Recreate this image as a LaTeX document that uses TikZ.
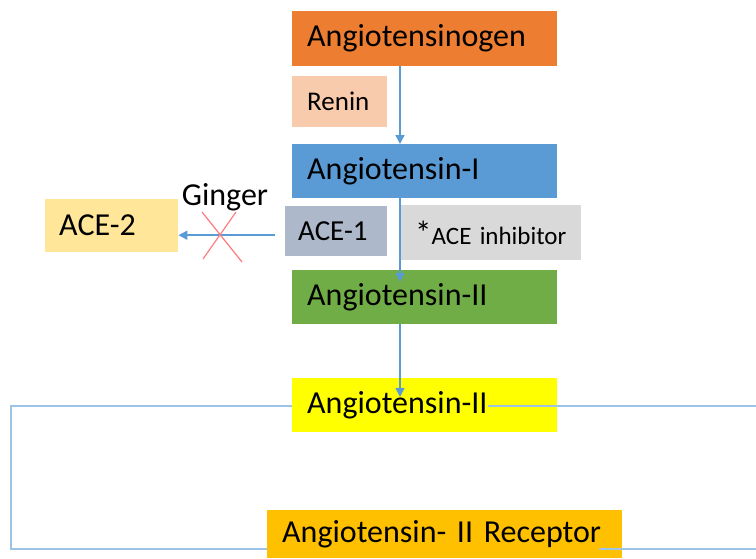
\documentclass[tikz,border=0pt]{standalone}
\usepackage{fontspec}
\setmainfont{Carlito}
\usetikzlibrary{arrows.meta}
\definecolor{cOrange}{HTML}{ED7D31}
\definecolor{cPeach}{HTML}{F8CBAD}
\definecolor{cBlue}{HTML}{5B9BD5}
\definecolor{cLYellow}{HTML}{FFE699}
\definecolor{cSlate}{HTML}{ADB9CA}
\definecolor{cGrey}{HTML}{D9D9D9}
\definecolor{cGreen}{HTML}{70AD47}
\definecolor{cYellow}{HTML}{FFFF00}
\definecolor{cGold}{HTML}{FFC000}
\definecolor{cLine}{HTML}{9DC3E6}
\definecolor{cCross}{HTML}{FF7C80}
\tikzset{
  box/.style={rectangle, inner xsep=15pt, inner ysep=0pt, anchor=north west, align=left, text=black},
  big/.style={font=\fontsize{32}{36}\selectfont},
  arr/.style={cBlue, line width=1.5pt, -{Triangle[width=9pt,length=9pt]}},
  fb/.style={cLine, line width=1.5pt},
  cross/.style={cCross, line width=1.2pt}
}
\begin{document}
\begin{tikzpicture}[x=1pt,y=-1pt]
\useasboundingbox (0,0) rectangle (756,558);
% feedback lines behind boxes
\coordinate (tl) at (11,406);
\coordinate (bl) at (11,549);
\coordinate (tr) at (756,406);
\coordinate (br) at (756,549);
\draw[fb] (292,406) -- (tl) -- (bl) -- (267,549);
% boxes
\node[box, big, fill=cOrange, minimum height=55pt, text width=235pt] (agen) at (292,11) {Angiotensinogen};
\node[box, fill=cPeach, minimum height=51pt, text width=65pt, font=\fontsize{27}{30}\selectfont] (renin) at (292,76) {Renin};
\node[box, big, fill=cBlue, minimum height=54pt, text width=235pt] (ang1) at (292,144) {Angiotensin-I};
\node[box, big, fill=cLYellow, minimum height=53pt, text width=105pt, inner xsep=14pt] (ace2) at (45,199) {ACE-2};
\node[box, fill=cSlate, minimum height=50pt, text width=76pt, inner xsep=13pt, font=\fontsize{29}{32}\selectfont] (ace1) at (285,206) {ACE-1};
\node[box, fill=cGrey, minimum height=55pt, text width=152pt, inner xsep=14pt, font=\fontsize{25}{30}\selectfont] (acei) at (401,205) {{\fontsize{33}{30}\selectfont *}ACE inhibitor};
\node[box, big, fill=cGreen, minimum height=54pt, text width=235pt] (ang2g) at (292,270) {Angiotensin-II};
\node[box, big, fill=cYellow, minimum height=54pt, text width=235pt] (ang2y) at (292,378) {Angiotensin-II};
\node[box, big, fill=cGold, minimum height=48pt, text width=325pt] (rec) at (267,510) {Angiotensin- II Receptor};
\node[big, anchor=center] (ginger) at (225,197) {Ginger};
% feedback lines over boxes
\draw[fb] (488,406) -- (tr);
\draw[fb] (599,549) -- (br);
% arrows
\draw[arr] ([xshift=108pt]agen.south west) -- ([xshift=108pt]ang1.north west);
\draw[arr] ([xshift=108pt]ang1.south west) -- ([xshift=108pt,yshift=-12pt]ang2g.north west);
\draw[arr] ([xshift=108pt]ang2g.south west) -- ([xshift=108pt,yshift=-19pt]ang2y.north west);
\coordinate (hstart) at ([xshift=-10pt,yshift=-4pt]ace1.west);
\draw[arr] (hstart) -- (hstart -| ace2.east);
% red cross
\coordinate (x1) at (202,212);
\coordinate (x2) at (242,262);
\coordinate (x3) at (236,212);
\coordinate (x4) at (203,259);
\draw[cross] (x1) -- (x2);
\draw[cross] (x3) -- (x4);
\end{tikzpicture}
\end{document}
